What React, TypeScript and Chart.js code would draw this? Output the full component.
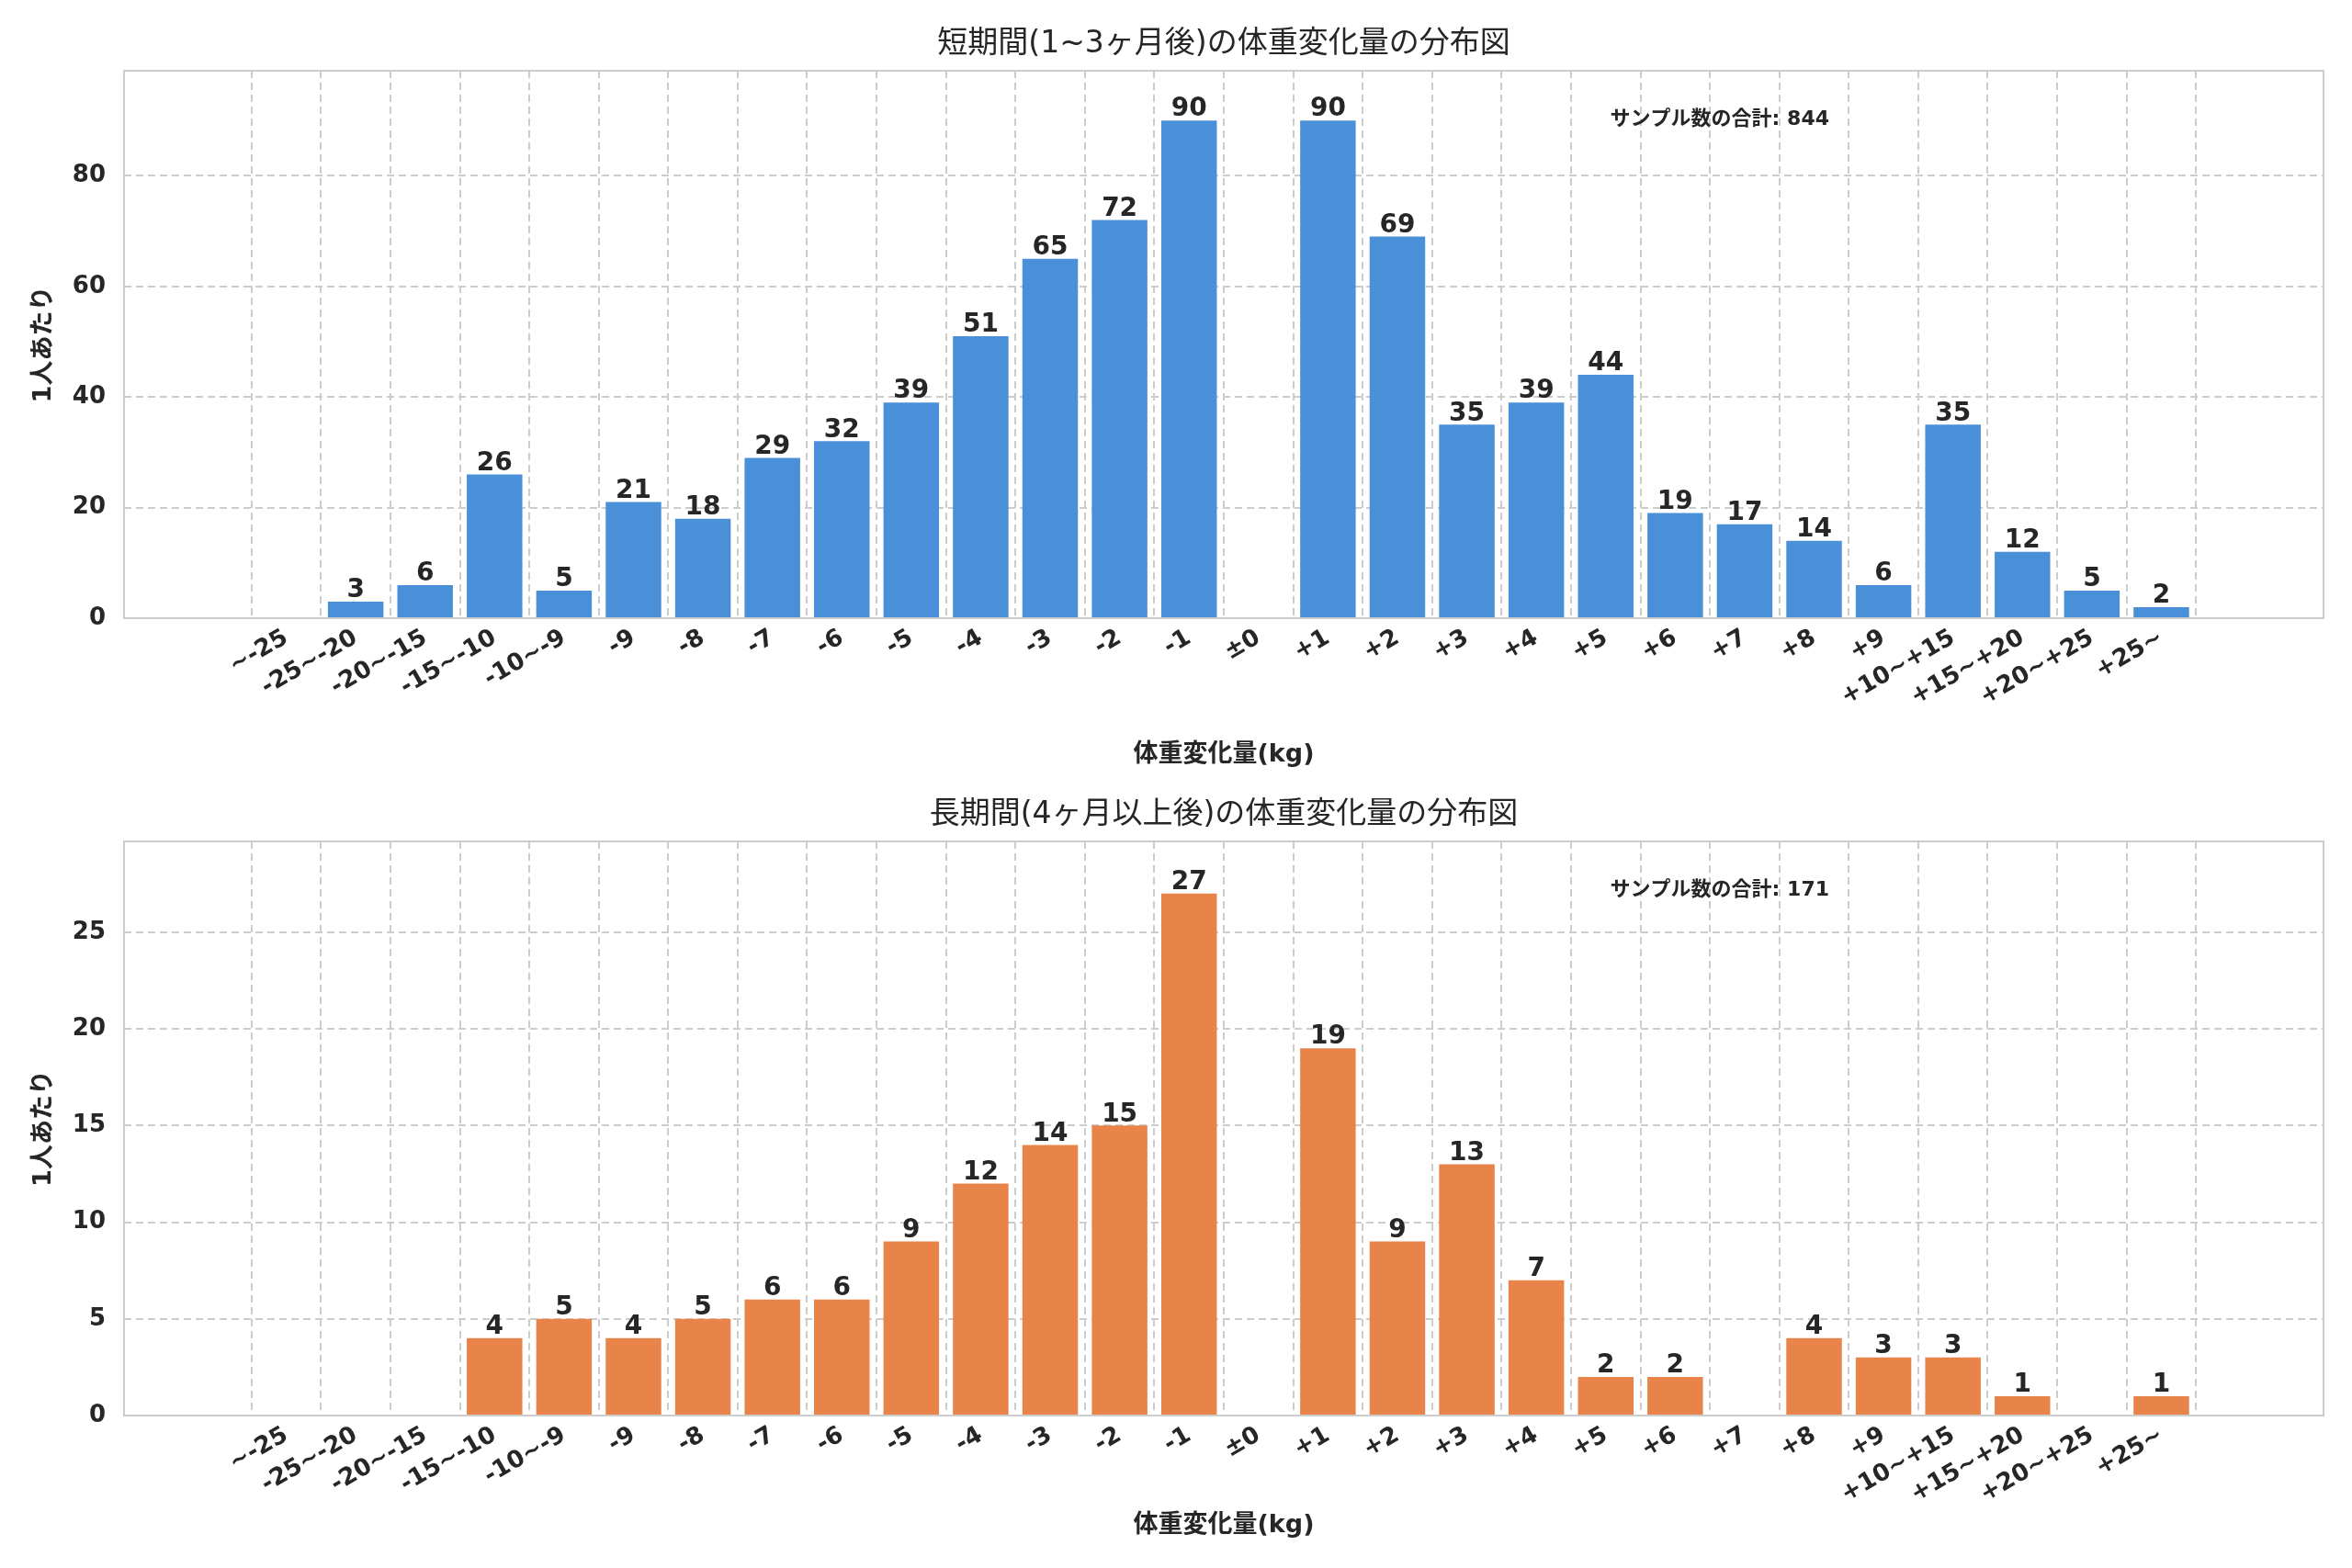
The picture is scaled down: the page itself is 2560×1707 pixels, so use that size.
import React, { useEffect, useRef } from "react";
import { Chart, registerables } from "chart.js";
Chart.register(...registerables);

const categories = ["~-25","-25~-20","-20~-15","-15~-10","-10~-9","-9","-8","-7","-6","-5","-4","-3","-2","-1","±0","+1","+2","+3","+4","+5","+6","+7","+8","+9","+10~+15","+15~+20","+20~+25","+25~"];
const shortValues = [0,3,6,26,5,21,18,29,32,39,51,65,72,90,0,90,69,35,39,44,19,17,14,6,35,12,5,2];
const longValues = [0,0,0,4,5,4,5,6,6,9,12,14,15,27,0,19,9,13,7,2,2,0,4,3,3,1,0,1];
const title1 = "短期間(1~3ヶ月後)の体重変化量の分布図";
const title2 = "長期間(4ヶ月以上後)の体重変化量の分布図";
const xTitle = "体重変化量(kg)";
const yTitle = "1人あたり";
const total1 = "サンプル数の合計: 844";
const total2 = "サンプル数の合計: 171";

const FONT = "'DejaVu Sans', 'Noto Sans CJK JP', sans-serif";
const TXT = "#262626";

function makeChart(canvas: HTMLCanvasElement, values: number[], color: string, ymax: number, step: number, title: string, total: string) {
  const textPlugin = {
    id: "texts",
    afterDraw(chart: any) {
      const { ctx, chartArea: a, scales } = chart;
      ctx.save();
      ctx.strokeStyle = "#cccccc";
      ctx.lineWidth = 2;
      ctx.setLineDash([]);
      ctx.strokeRect(a.left, a.top, a.right - a.left, a.bottom - a.top);
      ctx.fillStyle = TXT;
      ctx.textAlign = "center";
      ctx.textBaseline = "bottom";
      ctx.font = `bold 28px ${FONT}`;
      values.forEach((v, i) => {
        if (v > 0) ctx.fillText(String(v), scales.x.getPixelForValue(i), scales.y.getPixelForValue(v) + 2);
      });
      ctx.font = `33px ${FONT}`;
      ctx.textBaseline = "middle";
      ctx.fillText(title, (a.left + a.right) / 2, 48);
      ctx.font = `bold 27px ${FONT}`;
      ctx.fillText(xTitle, (a.left + a.right) / 2, 822);
      ctx.save();
      ctx.translate(48, (a.top + a.bottom) / 2);
      ctx.rotate(-Math.PI / 2);
      ctx.fillText(yTitle, 0, 0);
      ctx.restore();
      ctx.font = `bold 22px ${FONT}`;
      ctx.textAlign = "right";
      ctx.fillText(total, 1991, 130);
      ctx.restore();
    },
  };
  return new Chart(canvas, {
    type: "bar",
    data: {
      datasets: [{
        data: values.map((v, i) => ({ x: i, y: v })),
        backgroundColor: color,
        borderColor: "#ffffff",
        borderWidth: 0,
        barPercentage: 0.8,
        categoryPercentage: 1,
      }],
    },
    options: {
      animation: false,
      responsive: false,
      devicePixelRatio: 1,
      layout: { padding: { left: 0, top: 77, right: 31, bottom: 0 } },
      plugins: { legend: { display: false }, tooltip: { enabled: false }, title: { display: false } },
      scales: {
        x: {
          type: "linear",
          min: -1.77,
          max: 28.77,
          afterBuildTicks: (s: any) => { s.ticks = categories.map((_, i) => ({ value: i })); },
          afterFit: (s: any) => { s.height = 166; },
          ticks: {
            autoSkip: false,
            minRotation: 30,
            maxRotation: 30,
            padding: 6,
            color: TXT,
            font: { family: FONT, size: 26, weight: "bold" },
            callback: (v: any) => categories[v] ?? "",
          },
          grid: { color: "#cccccc", lineWidth: 2, drawTicks: false, tickBorderDash: [] },
          border: { display: false, dash: [8, 5] },
        },
        y: {
          min: 0,
          max: ymax,
          afterBuildTicks: (s: any) => { s.ticks = s.ticks.filter((t: any) => t.value % step === 0); },
          afterFit: (s: any) => { s.width = 135; },
          ticks: { stepSize: step, padding: 20, color: TXT, font: { family: FONT, size: 26, weight: "bold" } },
          grid: { color: "#cccccc", lineWidth: 2, drawTicks: false },
          border: { display: false, dash: [8, 5] },
        },
      },
    },
    plugins: [textPlugin],
  } as any);
}

export default function App() {
  const r1 = useRef<HTMLCanvasElement>(null);
  const r2 = useRef<HTMLCanvasElement>(null);
  useEffect(() => {
    document.body.style.margin = "0";
    const c1 = makeChart(r1.current!, shortValues, "#4a90d9", 99, 20, title1, total1);
    const c2 = makeChart(r2.current!, longValues, "#e8834a", 29.7, 5, title2, total2);
    return () => { c1.destroy(); c2.destroy(); };
  }, []);
  return (
    <div style={{ width: 2560, height: 1707, background: "#fff", position: "relative" }}>
      <canvas ref={r1} width={2560} height={839} style={{ position: "absolute", left: 0, top: 0, width: 2560, height: 839 }} />
      <canvas ref={r2} width={2560} height={868} style={{ position: "absolute", left: 0, top: 839, width: 2560, height: 868 }} />
    </div>
  );
}
